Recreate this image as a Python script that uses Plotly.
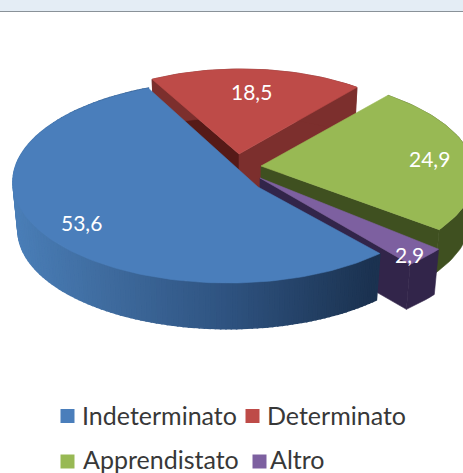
import math
import plotly.graph_objects as go

categories = ["Indeterminato", "Determinato", "Apprendistato", "Altro"]
values = [53.6, 18.5, 24.9, 2.9]
value_labels = ["53,6", "18,5", "24,9", "2,9"]
top_colors = ["#4a7ebb", "#be4b48", "#98b954", "#7d60a0"]

W, H = 463, 473
START = 139.0
STEP = 1.5
# drawing geometry of each exploded slice: rim ellipse, apex, wall drop
ellipses = [(228, 182, 215, 101), (241, 154, 187, 85), (250, 175, 225, 101), (250, 175, 240, 120)]
apexes = [(258, 187), (239, 154), (261, 166), (260, 178)]
drops = [48, 46, 45, 47]
SHRINK = 0.977
start_faces = [None, "#561a17", None, None]
end_faces = [None, "#7c2f2d", "#3f5020", "#32254a"]
rim_colors = [None, "#7c2f2d", "#3f5020", "#32254a"]
rim_stops = [(13, (74, 126, 183)), (110, (62, 106, 157)), (230, (46, 82, 127)), (373, (27, 50, 80))]
label_pos = [(81, 222), (251, 91), (429, 158), (409, 254)]
legend_pos = [(67.5, 416, 80), (252.5, 416, 265), (67.5, 461.5, 81), (259.5, 461.5, 268)]
legend_text_y = [415, 415, 458.5, 458.5]


def project(theta, e, apex):
    """Clock angle on a unit disc -> page pixels, with perspective moving the apex."""
    cx, cy, rx, ry = e
    cu, cv = (apex[0] - cx) / rx, -(apex[1] - cy) / ry
    pu, pv = math.sin(math.radians(theta)), math.cos(math.radians(theta))
    c2 = cu * cu + cv * cv
    dot = pu * cu + pv * cv
    paru, parv = dot / c2 * cu, dot / c2 * cv
    s = math.sqrt(1 - c2)
    den = 1 + dot
    u = (cu + paru + s * (pu - paru)) / den
    v = (cv + parv + s * (pv - parv)) / den
    return cx + rx * u, cy - ry * v


def lower(pt, e, drop):
    return e[0] + (pt[0] - e[0]) * SHRINK, e[1] + (pt[1] - e[1]) * SHRINK + drop


def poly(points, color, width=0.6):
    return go.Scatter(
        x=[p[0] for p in points] + [points[0][0]],
        y=[p[1] for p in points] + [points[0][1]],
        mode="lines", fill="toself", fillcolor=color,
        line=dict(color=color, width=width), hoverinfo="skip", showlegend=False,
    )


def grad(x):
    if x <= rim_stops[0][0]:
        return rim_stops[0][1]
    for (x0, c0), (x1, c1) in zip(rim_stops, rim_stops[1:]):
        if x <= x1:
            t = (x - x0) / (x1 - x0)
            return tuple(round(a + (b - a) * t) for a, b in zip(c0, c1))
    return rim_stops[-1][1]


total = sum(values)
spans = []
a = START
for v in values:
    spans.append((a, a + v / total * 360))
    a += v / total * 360

fig = go.Figure()
for i in [1, 2, 3, 0]:
    e, ap, d = ellipses[i], apexes[i], drops[i]
    a0, a1 = spans[i]
    n = max(2, int((a1 - a0) / STEP))
    angles = [a0 + (a1 - a0) * k / n for k in range(n + 1)]
    rim = [project(t, e, ap) for t in angles]
    rim_low = [lower(p, e, d) for p in rim]
    ap_low = lower(ap, e, d)
    if start_faces[i]:
        fig.add_trace(poly([ap, rim[0], rim_low[0], ap_low], start_faces[i]))
    if end_faces[i]:
        fig.add_trace(poly([ap, rim[-1], rim_low[-1], ap_low], end_faces[i]))
    if i == 0:
        for k in range(n):
            col = "rgb(%d,%d,%d)" % grad((rim[k][0] + rim[k + 1][0]) / 2)
            fig.add_trace(poly([rim[k], rim[k + 1], rim_low[k + 1], rim_low[k]], col, width=1.6))
    else:
        fig.add_trace(poly(rim + rim_low[::-1], rim_colors[i]))
    fig.add_trace(poly([ap] + rim, top_colors[i]))

# legend swatches
fig.add_trace(go.Scatter(
    x=[p[0] for p in legend_pos], y=[p[1] for p in legend_pos], mode="markers",
    marker=dict(symbol="square", size=14, color=top_colors), hoverinfo="skip", showlegend=False,
))

annotations = []
for (x, y), t in zip(label_pos, value_labels):
    annotations.append(dict(x=x, y=y, text=t, showarrow=False, xref="x", yref="y",
                            font=dict(family="Lato", size=21, color="#ffffff")))
for (sx, sy, tx), ty, name in zip(legend_pos, legend_text_y, categories):
    annotations.append(dict(x=tx, y=ty, text=name, showarrow=False, xref="x", yref="y",
                            xanchor="left", font=dict(family="Lato", size=25, color="#383838")))

fig.update_layout(
    width=W, height=H, margin=dict(l=0, r=0, t=0, b=0),
    paper_bgcolor="#ffffff", plot_bgcolor="#ffffff", showlegend=False,
    xaxis=dict(range=[0, W], visible=False, fixedrange=True),
    yaxis=dict(range=[H, 0], visible=False, fixedrange=True),
    annotations=annotations,
    shapes=[
        dict(type="rect", xref="x", yref="y", x0=0, x1=W, y0=0, y1=11, fillcolor="#e4edf5", line_width=0, layer="below"),
        dict(type="line", xref="x", yref="y", x0=0, x1=W, y0=11.5, y1=11.5, line=dict(color="#8a9299", width=1), layer="below"),
    ],
)
fig.write_html("out.html", config={"displayModeBar": False},
               post_script="document.body.style.margin='0';")
